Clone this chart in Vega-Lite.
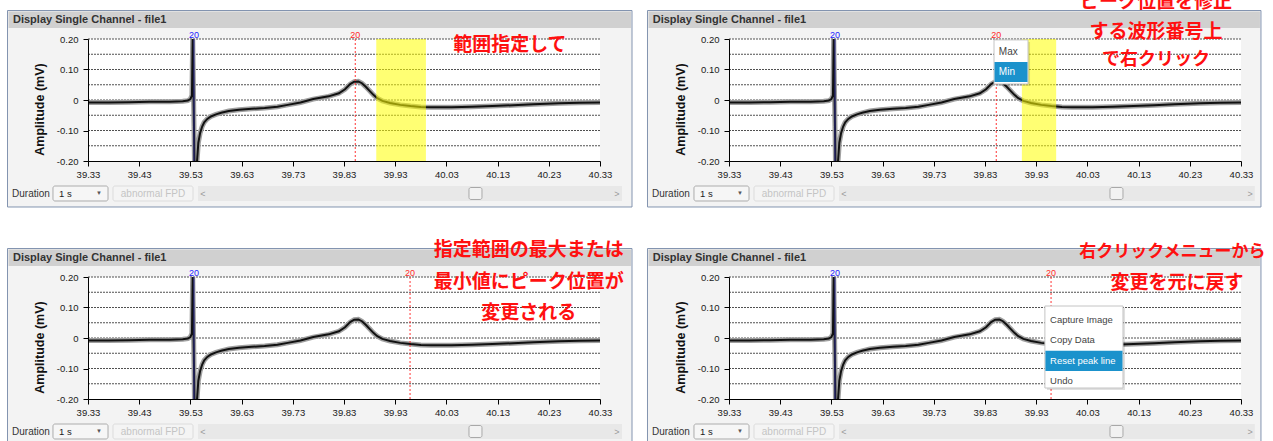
{
"$schema": "https://vega.github.io/schema/vega-lite/v6.json",
"background": "white",
"padding": {"left": 7, "top": -7, "right": 0, "bottom": 0},
"autosize": {"type": "pad"},
"data": {"values": [{"row": 1}]},
"columns": 2,
"spacing": {"row": 116, "column": 129},
"bounds": "flush",
"datasets": {
"signal": [
{"t":39.33,"v":-0.008},{"t":39.37,"v":-0.008},{"t":39.41,"v":-0.007},{"t":39.45,"v":-0.006},{"t":39.49,"v":-0.006},{"t":39.515,"v":-0.004},{"t":39.525,"v":-0.002},{"t":39.53,"v":0.003},{"t":39.533,"v":0.015},{"t":39.5345,"v":0.21},{"t":39.538,"v":-0.21},{"t":39.543,"v":-0.2},{"t":39.5455,"v":-0.14},{"t":39.549,"v":-0.108},{"t":39.553,"v":-0.087},{"t":39.557,"v":-0.073},{"t":39.563,"v":-0.062},{"t":39.57,"v":-0.054},{"t":39.58,"v":-0.047},{"t":39.59,"v":-0.042},{"t":39.605,"v":-0.036},{"t":39.625,"v":-0.032},{"t":39.65,"v":-0.029},{"t":39.675,"v":-0.026},{"t":39.7,"v":-0.022},{"t":39.72,"v":-0.016},{"t":39.745,"v":-0.008},{"t":39.77,"v":0.003},{"t":39.8,"v":0.012},{"t":39.82,"v":0.022},{"t":39.832,"v":0.035},{"t":39.842,"v":0.052},{"t":39.85,"v":0.06},{"t":39.858,"v":0.061},{"t":39.865,"v":0.055},{"t":39.872,"v":0.044},{"t":39.88,"v":0.03},{"t":39.888,"v":0.016},{"t":39.895,"v":0.006},{"t":39.905,"v":-0.003},{"t":39.92,"v":-0.01},{"t":39.94,"v":-0.016},{"t":39.96,"v":-0.02},{"t":39.98,"v":-0.023},{"t":40.0,"v":-0.024},{"t":40.04,"v":-0.024},{"t":40.08,"v":-0.022},{"t":40.12,"v":-0.02},{"t":40.16,"v":-0.017},{"t":40.2,"v":-0.014},{"t":40.25,"v":-0.011},{"t":40.29,"v":-0.009},{"t":40.33,"v":-0.008}
],
"grid": [{"g":0.2},{"g":0.15},{"g":0.1},{"g":0.05},{"g":0},{"g":-0.05},{"g":-0.1},{"g":-0.15}],
"markers": [
{"panel":"A","blue":39.537,"red":39.852},
{"panel":"B","blue":39.537,"red":39.852},
{"panel":"C","blue":39.537,"red":39.959},
{"panel":"D","blue":39.537,"red":39.959}
],
"ranges": [
{"panel":"A","start":39.893,"end":39.99},
{"panel":"B","start":39.902,"end":39.969}
]
},
"concat": [
{
"width": 512, "height": 122,
"layer": [
{"mark":{"type":"rect","fill":"#f3f3f3","stroke":"#8394b0","strokeWidth":1},"encoding":{"x":{"datum":39.1728},"x2":{"datum":40.3925},"y":{"datum":0.2934},"y2":{"datum":-0.3508}}},
{"mark":{"type":"rect","fill":"#d0d0d0"},"encoding":{"x":{"datum":39.1748},"x2":{"datum":40.3905},"y":{"datum":0.2905},"y2":{"datum":0.2361}}},
{"mark":{"type":"text","text":"Display Single Channel - file1","align":"left","baseline":"middle","font":"Liberation Sans","fontSize":11,"fontWeight":"bold","color":"#333333"},"encoding":{"x":{"datum":39.1835},"y":{"datum":0.2623}}},
{"mark":{"type":"rect","fill":"#ffffff"},"encoding":{"x":{"datum":39.33},"x2":{"datum":40.33},"y":{"datum":0.2},"y2":{"datum":-0.2}}},
{"data":{"name":"grid"},"mark":{"type":"rule","color":"#505050","strokeDash":[2,1],"strokeWidth":1},"encoding":{"y":{"field":"g","type":"quantitative"}}},
{"data":{"name":"signal"},"mark":{"type":"line","color":"#a0a0a0","strokeWidth":5,"clip":true},"encoding":{"x":{"field":"t","type":"quantitative"},"y":{"field":"v","type":"quantitative"}}},
{"data":{"name":"signal"},"mark":{"type":"line","color":"#111111","strokeWidth":2,"clip":true},"encoding":{
"x":{"field":"t","type":"quantitative","scale":{"domain":[39.33,40.33],"nice":false,"zero":false},"axis":{"values":[39.33,39.43,39.53,39.63,39.73,39.83,39.93,40.03,40.13,40.23,40.33],"format":".2f","title":null,"zindex":1}},
"y":{"field":"v","type":"quantitative","scale":{"domain":[-0.2,0.2],"nice":false,"zero":false},"axis":{"values":[0.2,0.15,0.1,0.05,0,-0.05,-0.1,-0.15,-0.2],"tickCount":8,"labelOverlap":false,"labelBound":false,"labelExpr":"datum.value == 0 ? '0' : (abs(datum.value) > 0.14 && abs(datum.value) < 0.16) ? '' : (datum.value < 0 ? '-' : '') + format(abs(datum.value), '.2f')","title":"Amplitude (mV)","zindex":1}}}},
{"data":{"name":"markers"},"transform":[{"filter":"datum.panel == 'A'"}],"mark":{"type":"rule","color":"#2a2a8a","strokeWidth":1},"encoding":{"x":{"field":"blue","type":"quantitative"}}},
{"data":{"name":"markers"},"transform":[{"filter":"datum.panel == 'A'"}],"mark":{"type":"text","text":"20","fontSize":9,"color":"#2222ff","baseline":"middle"},"encoding":{"x":{"field":"blue","type":"quantitative"},"y":{"datum":0.2131}}},
{"data":{"name":"markers"},"transform":[{"filter":"datum.panel == 'A'"}],"mark":{"type":"rule","color":"#ff3333","strokeWidth":1,"strokeDash":[2,2]},"encoding":{"x":{"field":"red","type":"quantitative"}}},
{"data":{"name":"markers"},"transform":[{"filter":"datum.panel == 'A'"}],"mark":{"type":"text","text":"20","fontSize":9,"color":"#ff2a2a","baseline":"middle"},"encoding":{"x":{"field":"red","type":"quantitative"},"y":{"datum":0.2131}}},
{"data":{"name":"ranges"},"transform":[{"filter":"datum.panel == 'A'"}],"mark":{"type":"rect","color":"#ffff00","opacity":0.55},"encoding":{"x":{"field":"start","type":"quantitative"},"x2":{"field":"end"},"y":{"datum":0.2},"y2":{"datum":-0.2}}},
{"mark":{"type":"text","text":"範囲指定して","align":"center","baseline":"middle","font":"Noto Sans CJK JP","fontSize":19,"fontWeight":"bold","color":"#ff1010"},"encoding":{"x":{"datum":40.154},"y":{"datum":0.18}}},
{"mark":{"type":"text","text":"Duration","align":"left","baseline":"middle","fontSize":10,"color":"#333333"},"encoding":{"x":{"datum":39.1816},"y":{"datum":-0.3066}}},
{"mark":{"type":"rect","fill":"#f6f6f6","stroke":"#acacac","cornerRadius":2},"encoding":{"x":{"datum":39.2616},"x2":{"datum":39.3691},"y":{"datum":-0.282},"y2":{"datum":-0.3311}}},
{"mark":{"type":"text","text":"1 s","align":"left","baseline":"middle","fontSize":9.5,"color":"#222222"},"encoding":{"x":{"datum":39.2734},"y":{"datum":-0.3066}}},
{"mark":{"type":"text","text":"▼","align":"center","baseline":"middle","fontSize":6,"color":"#555555"},"encoding":{"x":{"datum":39.3515},"y":{"datum":-0.3036}}},
{"mark":{"type":"rect","fill":"#f4f4f4","stroke":"#dcdcdc","cornerRadius":2},"encoding":{"x":{"datum":39.3788},"x2":{"datum":39.5351},"y":{"datum":-0.282},"y2":{"datum":-0.3311}}},
{"mark":{"type":"text","text":"abnormal FPD","align":"center","baseline":"middle","fontSize":10,"color":"#c4c4c4"},"encoding":{"x":{"datum":39.457},"y":{"datum":-0.3066}}},
{"mark":{"type":"rect","fill":"#e8e8e8"},"encoding":{"x":{"datum":39.5448},"x2":{"datum":40.373},"y":{"datum":-0.282},"y2":{"datum":-0.3311}}},
{"mark":{"type":"text","text":"<","align":"center","baseline":"middle","fontSize":9,"color":"#9a9a9a"},"encoding":{"x":{"datum":39.5546},"y":{"datum":-0.3066}}},
{"mark":{"type":"text","text":">","align":"center","baseline":"middle","fontSize":9,"color":"#9a9a9a"},"encoding":{"x":{"datum":40.3632},"y":{"datum":-0.3066}}},
{"mark":{"type":"rect","fill":"#f2f2f2","stroke":"#a8a8a8","cornerRadius":2},"encoding":{"x":{"datum":40.0741},"x2":{"datum":40.0995},"y":{"datum":-0.2869},"y2":{"datum":-0.3262}}}
]
},
{
"width": 512, "height": 122,
"layer": [
{"mark":{"type":"rect","fill":"#f3f3f3","stroke":"#8394b0","strokeWidth":1},"encoding":{"x":{"datum":39.1708},"x2":{"datum":40.369},"y":{"datum":0.2934},"y2":{"datum":-0.3508}}},
{"mark":{"type":"rect","fill":"#d0d0d0"},"encoding":{"x":{"datum":39.1728},"x2":{"datum":40.367},"y":{"datum":0.2905},"y2":{"datum":0.2361}}},
{"mark":{"type":"text","text":"Display Single Channel - file1","align":"left","baseline":"middle","font":"Liberation Sans","fontSize":11,"fontWeight":"bold","color":"#333333"},"encoding":{"x":{"datum":39.181},"y":{"datum":0.2623}}},
{"mark":{"type":"rect","fill":"#ffffff"},"encoding":{"x":{"datum":39.33},"x2":{"datum":40.33},"y":{"datum":0.2},"y2":{"datum":-0.2}}},
{"data":{"name":"grid"},"mark":{"type":"rule","color":"#505050","strokeDash":[2,1],"strokeWidth":1},"encoding":{"y":{"field":"g","type":"quantitative"}}},
{"data":{"name":"signal"},"mark":{"type":"line","color":"#a0a0a0","strokeWidth":5,"clip":true},"encoding":{"x":{"field":"t","type":"quantitative"},"y":{"field":"v","type":"quantitative"}}},
{"data":{"name":"signal"},"mark":{"type":"line","color":"#111111","strokeWidth":2,"clip":true},"encoding":{
"x":{"field":"t","type":"quantitative","scale":{"domain":[39.33,40.33],"nice":false,"zero":false},"axis":{"values":[39.33,39.43,39.53,39.63,39.73,39.83,39.93,40.03,40.13,40.23,40.33],"format":".2f","title":null,"zindex":1}},
"y":{"field":"v","type":"quantitative","scale":{"domain":[-0.2,0.2],"nice":false,"zero":false},"axis":{"values":[0.2,0.15,0.1,0.05,0,-0.05,-0.1,-0.15,-0.2],"tickCount":8,"labelOverlap":false,"labelBound":false,"labelExpr":"datum.value == 0 ? '0' : (abs(datum.value) > 0.14 && abs(datum.value) < 0.16) ? '' : (datum.value < 0 ? '-' : '') + format(abs(datum.value), '.2f')","title":"Amplitude (mV)","zindex":1}}}},
{"data":{"name":"markers"},"transform":[{"filter":"datum.panel == 'B'"}],"mark":{"type":"rule","color":"#2a2a8a","strokeWidth":1},"encoding":{"x":{"field":"blue","type":"quantitative"}}},
{"data":{"name":"markers"},"transform":[{"filter":"datum.panel == 'B'"}],"mark":{"type":"text","text":"20","fontSize":9,"color":"#2222ff","baseline":"middle"},"encoding":{"x":{"field":"blue","type":"quantitative"},"y":{"datum":0.2131}}},
{"data":{"name":"markers"},"transform":[{"filter":"datum.panel == 'B'"}],"mark":{"type":"rule","color":"#ff3333","strokeWidth":1,"strokeDash":[2,2]},"encoding":{"x":{"field":"red","type":"quantitative"}}},
{"data":{"name":"markers"},"transform":[{"filter":"datum.panel == 'B'"}],"mark":{"type":"text","text":"20","fontSize":9,"color":"#ff2a2a","baseline":"middle"},"encoding":{"x":{"field":"red","type":"quantitative"},"y":{"datum":0.2131}}},
{"data":{"name":"ranges"},"transform":[{"filter":"datum.panel == 'B'"}],"mark":{"type":"rect","color":"#ffff00","opacity":0.55},"encoding":{"x":{"field":"start","type":"quantitative"},"x2":{"field":"end"},"y":{"datum":0.2},"y2":{"datum":-0.2}}},
{"mark":{"type":"rect","fill":"#000000","opacity":0.12},"encoding":{"x":{"datum":39.8516},"x2":{"datum":39.918},"y":{"datum":0.1904},"y2":{"datum":0.0459}}},
{"mark":{"type":"rect","fill":"#ffffff","stroke":"#c4c4c4"},"encoding":{"x":{"datum":39.8476},"x2":{"datum":39.914},"y":{"datum":0.197},"y2":{"datum":0.0525}}},
{"mark":{"type":"rect","fill":"#1b92cc"},"encoding":{"x":{"datum":39.8486},"x2":{"datum":39.913},"y":{"datum":0.1246},"y2":{"datum":0.059}}},
{"mark":{"type":"text","text":"Max","align":"left","baseline":"middle","fontSize":10,"color":"#444444"},"encoding":{"x":{"datum":39.857},"y":{"datum":0.159}}},
{"mark":{"type":"text","text":"Min","align":"left","baseline":"middle","fontSize":10,"color":"#ffffff"},"encoding":{"x":{"datum":39.857},"y":{"datum":0.0928}}},
{"mark":{"type":"text","text":"ピーク位置を修正","align":"center","baseline":"middle","font":"Noto Sans CJK JP","fontSize":19,"fontWeight":"bold","color":"#ff1010"},"encoding":{"x":{"datum":40.164},"y":{"datum":0.3197}}},
{"mark":{"type":"text","text":"する波形番号上","align":"center","baseline":"middle","font":"Noto Sans CJK JP","fontSize":19,"fontWeight":"bold","color":"#ff1010"},"encoding":{"x":{"datum":40.164},"y":{"datum":0.224}}},
{"mark":{"type":"text","text":"で右クリック","align":"center","baseline":"middle","font":"Noto Sans CJK JP","fontSize":18,"fontWeight":"bold","color":"#ff1010"},"encoding":{"x":{"datum":40.164},"y":{"datum":0.131}}},
{"mark":{"type":"text","text":"Duration","align":"left","baseline":"middle","fontSize":10,"color":"#333333"},"encoding":{"x":{"datum":39.1796},"y":{"datum":-0.3066}}},
{"mark":{"type":"rect","fill":"#f6f6f6","stroke":"#acacac","cornerRadius":2},"encoding":{"x":{"datum":39.2616},"x2":{"datum":39.3691},"y":{"datum":-0.282},"y2":{"datum":-0.3311}}},
{"mark":{"type":"text","text":"1 s","align":"left","baseline":"middle","fontSize":9.5,"color":"#222222"},"encoding":{"x":{"datum":39.2734},"y":{"datum":-0.3066}}},
{"mark":{"type":"text","text":"▼","align":"center","baseline":"middle","fontSize":6,"color":"#555555"},"encoding":{"x":{"datum":39.3515},"y":{"datum":-0.3036}}},
{"mark":{"type":"rect","fill":"#f4f4f4","stroke":"#dcdcdc","cornerRadius":2},"encoding":{"x":{"datum":39.3788},"x2":{"datum":39.5351},"y":{"datum":-0.282},"y2":{"datum":-0.3311}}},
{"mark":{"type":"text","text":"abnormal FPD","align":"center","baseline":"middle","fontSize":10,"color":"#c4c4c4"},"encoding":{"x":{"datum":39.457},"y":{"datum":-0.3066}}},
{"mark":{"type":"rect","fill":"#e8e8e8"},"encoding":{"x":{"datum":39.5448},"x2":{"datum":40.357},"y":{"datum":-0.282},"y2":{"datum":-0.3311}}},
{"mark":{"type":"text","text":"<","align":"center","baseline":"middle","fontSize":9,"color":"#9a9a9a"},"encoding":{"x":{"datum":39.5546},"y":{"datum":-0.3066}}},
{"mark":{"type":"text","text":">","align":"center","baseline":"middle","fontSize":9,"color":"#9a9a9a"},"encoding":{"x":{"datum":40.3476},"y":{"datum":-0.3066}}},
{"mark":{"type":"rect","fill":"#f2f2f2","stroke":"#a8a8a8","cornerRadius":2},"encoding":{"x":{"datum":40.0741},"x2":{"datum":40.0995},"y":{"datum":-0.2869},"y2":{"datum":-0.3262}}}
]
},
{
"width": 512, "height": 122,
"layer": [
{"mark":{"type":"rect","fill":"#f3f3f3","stroke":"#8394b0","strokeWidth":1},"encoding":{"x":{"datum":39.1728},"x2":{"datum":40.3925},"y":{"datum":0.2934},"y2":{"datum":-0.3508}}},
{"mark":{"type":"rect","fill":"#d0d0d0"},"encoding":{"x":{"datum":39.1748},"x2":{"datum":40.3905},"y":{"datum":0.2905},"y2":{"datum":0.2361}}},
{"mark":{"type":"text","text":"Display Single Channel - file1","align":"left","baseline":"middle","font":"Liberation Sans","fontSize":11,"fontWeight":"bold","color":"#333333"},"encoding":{"x":{"datum":39.1835},"y":{"datum":0.2623}}},
{"mark":{"type":"rect","fill":"#ffffff"},"encoding":{"x":{"datum":39.33},"x2":{"datum":40.33},"y":{"datum":0.2},"y2":{"datum":-0.2}}},
{"data":{"name":"grid"},"mark":{"type":"rule","color":"#505050","strokeDash":[2,1],"strokeWidth":1},"encoding":{"y":{"field":"g","type":"quantitative"}}},
{"data":{"name":"signal"},"mark":{"type":"line","color":"#a0a0a0","strokeWidth":5,"clip":true},"encoding":{"x":{"field":"t","type":"quantitative"},"y":{"field":"v","type":"quantitative"}}},
{"data":{"name":"signal"},"mark":{"type":"line","color":"#111111","strokeWidth":2,"clip":true},"encoding":{
"x":{"field":"t","type":"quantitative","scale":{"domain":[39.33,40.33],"nice":false,"zero":false},"axis":{"values":[39.33,39.43,39.53,39.63,39.73,39.83,39.93,40.03,40.13,40.23,40.33],"format":".2f","title":null,"zindex":1}},
"y":{"field":"v","type":"quantitative","scale":{"domain":[-0.2,0.2],"nice":false,"zero":false},"axis":{"values":[0.2,0.15,0.1,0.05,0,-0.05,-0.1,-0.15,-0.2],"tickCount":8,"labelOverlap":false,"labelBound":false,"labelExpr":"datum.value == 0 ? '0' : (abs(datum.value) > 0.14 && abs(datum.value) < 0.16) ? '' : (datum.value < 0 ? '-' : '') + format(abs(datum.value), '.2f')","title":"Amplitude (mV)","zindex":1}}}},
{"data":{"name":"markers"},"transform":[{"filter":"datum.panel == 'C'"}],"mark":{"type":"rule","color":"#2a2a8a","strokeWidth":1},"encoding":{"x":{"field":"blue","type":"quantitative"}}},
{"data":{"name":"markers"},"transform":[{"filter":"datum.panel == 'C'"}],"mark":{"type":"text","text":"20","fontSize":9,"color":"#2222ff","baseline":"middle"},"encoding":{"x":{"field":"blue","type":"quantitative"},"y":{"datum":0.2131}}},
{"data":{"name":"markers"},"transform":[{"filter":"datum.panel == 'C'"}],"mark":{"type":"rule","color":"#ff3333","strokeWidth":1,"strokeDash":[2,2]},"encoding":{"x":{"field":"red","type":"quantitative"}}},
{"data":{"name":"markers"},"transform":[{"filter":"datum.panel == 'C'"}],"mark":{"type":"text","text":"20","fontSize":9,"color":"#ff2a2a","baseline":"middle"},"encoding":{"x":{"field":"red","type":"quantitative"},"y":{"datum":0.2131}}},
{"mark":{"type":"text","text":"指定範囲の最大または","align":"center","baseline":"middle","font":"Noto Sans CJK JP","fontSize":19,"fontWeight":"bold","color":"#ff1010"},"encoding":{"x":{"datum":40.191},"y":{"datum":0.2885}}},
{"mark":{"type":"text","text":"最小値にピーク位置が","align":"center","baseline":"middle","font":"Noto Sans CJK JP","fontSize":19,"fontWeight":"bold","color":"#ff1010"},"encoding":{"x":{"datum":40.191},"y":{"datum":0.1846}}},
{"mark":{"type":"text","text":"変更される","align":"center","baseline":"middle","font":"Noto Sans CJK JP","fontSize":19,"fontWeight":"bold","color":"#ff1010"},"encoding":{"x":{"datum":40.191},"y":{"datum":0.081}}},
{"mark":{"type":"text","text":"Duration","align":"left","baseline":"middle","fontSize":10,"color":"#333333"},"encoding":{"x":{"datum":39.1816},"y":{"datum":-0.3066}}},
{"mark":{"type":"rect","fill":"#f6f6f6","stroke":"#acacac","cornerRadius":2},"encoding":{"x":{"datum":39.2616},"x2":{"datum":39.3691},"y":{"datum":-0.282},"y2":{"datum":-0.3311}}},
{"mark":{"type":"text","text":"1 s","align":"left","baseline":"middle","fontSize":9.5,"color":"#222222"},"encoding":{"x":{"datum":39.2734},"y":{"datum":-0.3066}}},
{"mark":{"type":"text","text":"▼","align":"center","baseline":"middle","fontSize":6,"color":"#555555"},"encoding":{"x":{"datum":39.3515},"y":{"datum":-0.3036}}},
{"mark":{"type":"rect","fill":"#f4f4f4","stroke":"#dcdcdc","cornerRadius":2},"encoding":{"x":{"datum":39.3788},"x2":{"datum":39.5351},"y":{"datum":-0.282},"y2":{"datum":-0.3311}}},
{"mark":{"type":"text","text":"abnormal FPD","align":"center","baseline":"middle","fontSize":10,"color":"#c4c4c4"},"encoding":{"x":{"datum":39.457},"y":{"datum":-0.3066}}},
{"mark":{"type":"rect","fill":"#e8e8e8"},"encoding":{"x":{"datum":39.5448},"x2":{"datum":40.373},"y":{"datum":-0.282},"y2":{"datum":-0.3311}}},
{"mark":{"type":"text","text":"<","align":"center","baseline":"middle","fontSize":9,"color":"#9a9a9a"},"encoding":{"x":{"datum":39.5546},"y":{"datum":-0.3066}}},
{"mark":{"type":"text","text":">","align":"center","baseline":"middle","fontSize":9,"color":"#9a9a9a"},"encoding":{"x":{"datum":40.3632},"y":{"datum":-0.3066}}},
{"mark":{"type":"rect","fill":"#f2f2f2","stroke":"#a8a8a8","cornerRadius":2},"encoding":{"x":{"datum":40.0741},"x2":{"datum":40.0995},"y":{"datum":-0.2869},"y2":{"datum":-0.3262}}}
]
},
{
"width": 512, "height": 122,
"layer": [
{"mark":{"type":"rect","fill":"#f3f3f3","stroke":"#8394b0","strokeWidth":1},"encoding":{"x":{"datum":39.1708},"x2":{"datum":40.369},"y":{"datum":0.2934},"y2":{"datum":-0.3508}}},
{"mark":{"type":"rect","fill":"#d0d0d0"},"encoding":{"x":{"datum":39.1728},"x2":{"datum":40.367},"y":{"datum":0.2905},"y2":{"datum":0.2361}}},
{"mark":{"type":"text","text":"Display Single Channel - file1","align":"left","baseline":"middle","font":"Liberation Sans","fontSize":11,"fontWeight":"bold","color":"#333333"},"encoding":{"x":{"datum":39.181},"y":{"datum":0.2623}}},
{"mark":{"type":"rect","fill":"#ffffff"},"encoding":{"x":{"datum":39.33},"x2":{"datum":40.33},"y":{"datum":0.2},"y2":{"datum":-0.2}}},
{"data":{"name":"grid"},"mark":{"type":"rule","color":"#505050","strokeDash":[2,1],"strokeWidth":1},"encoding":{"y":{"field":"g","type":"quantitative"}}},
{"data":{"name":"signal"},"mark":{"type":"line","color":"#a0a0a0","strokeWidth":5,"clip":true},"encoding":{"x":{"field":"t","type":"quantitative"},"y":{"field":"v","type":"quantitative"}}},
{"data":{"name":"signal"},"mark":{"type":"line","color":"#111111","strokeWidth":2,"clip":true},"encoding":{
"x":{"field":"t","type":"quantitative","scale":{"domain":[39.33,40.33],"nice":false,"zero":false},"axis":{"values":[39.33,39.43,39.53,39.63,39.73,39.83,39.93,40.03,40.13,40.23,40.33],"format":".2f","title":null,"zindex":1}},
"y":{"field":"v","type":"quantitative","scale":{"domain":[-0.2,0.2],"nice":false,"zero":false},"axis":{"values":[0.2,0.15,0.1,0.05,0,-0.05,-0.1,-0.15,-0.2],"tickCount":8,"labelOverlap":false,"labelBound":false,"labelExpr":"datum.value == 0 ? '0' : (abs(datum.value) > 0.14 && abs(datum.value) < 0.16) ? '' : (datum.value < 0 ? '-' : '') + format(abs(datum.value), '.2f')","title":"Amplitude (mV)","zindex":1}}}},
{"data":{"name":"markers"},"transform":[{"filter":"datum.panel == 'D'"}],"mark":{"type":"rule","color":"#2a2a8a","strokeWidth":1},"encoding":{"x":{"field":"blue","type":"quantitative"}}},
{"data":{"name":"markers"},"transform":[{"filter":"datum.panel == 'D'"}],"mark":{"type":"text","text":"20","fontSize":9,"color":"#2222ff","baseline":"middle"},"encoding":{"x":{"field":"blue","type":"quantitative"},"y":{"datum":0.2131}}},
{"data":{"name":"markers"},"transform":[{"filter":"datum.panel == 'D'"}],"mark":{"type":"rule","color":"#ff3333","strokeWidth":1,"strokeDash":[2,2]},"encoding":{"x":{"field":"red","type":"quantitative"}}},
{"data":{"name":"markers"},"transform":[{"filter":"datum.panel == 'D'"}],"mark":{"type":"text","text":"20","fontSize":9,"color":"#ff2a2a","baseline":"middle"},"encoding":{"x":{"field":"red","type":"quantitative"},"y":{"datum":0.2131}}},
{"mark":{"type":"rect","fill":"#000000","opacity":0.12},"encoding":{"x":{"datum":39.951},"x2":{"datum":40.1035},"y":{"datum":0.0983},"y2":{"datum":-0.1706}}},
{"mark":{"type":"rect","fill":"#ffffff","stroke":"#c4c4c4"},"encoding":{"x":{"datum":39.947},"x2":{"datum":40.0995},"y":{"datum":0.1049},"y2":{"datum":-0.164}}},
{"mark":{"type":"rect","fill":"#1b92cc"},"encoding":{"x":{"datum":39.948},"x2":{"datum":40.0985},"y":{"datum":-0.0417},"y2":{"datum":-0.108}}},
{"mark":{"type":"text","text":"Capture Image","align":"left","baseline":"middle","fontSize":9.5,"color":"#444444"},"encoding":{"x":{"datum":39.957},"y":{"datum":0.059}}},
{"mark":{"type":"text","text":"Copy Data","align":"left","baseline":"middle","fontSize":9.5,"color":"#444444"},"encoding":{"x":{"datum":39.957},"y":{"datum":-0.0066}}},
{"mark":{"type":"text","text":"Reset peak line","align":"left","baseline":"middle","fontSize":9.5,"color":"#ffffff"},"encoding":{"x":{"datum":39.957},"y":{"datum":-0.0745}}},
{"mark":{"type":"text","text":"Undo","align":"left","baseline":"middle","fontSize":9.5,"color":"#444444"},"encoding":{"x":{"datum":39.957},"y":{"datum":-0.14}}},
{"mark":{"type":"text","text":"右クリックメニューから","align":"center","baseline":"middle","font":"Noto Sans CJK JP","fontSize":17,"fontWeight":"bold","color":"#ff1010"},"encoding":{"x":{"datum":40.196},"y":{"datum":0.2836}}},
{"mark":{"type":"text","text":"変更を元に戻す","align":"center","baseline":"middle","font":"Noto Sans CJK JP","fontSize":19,"fontWeight":"bold","color":"#ff1010"},"encoding":{"x":{"datum":40.205},"y":{"datum":0.18}}},
{"mark":{"type":"text","text":"Duration","align":"left","baseline":"middle","fontSize":10,"color":"#333333"},"encoding":{"x":{"datum":39.1796},"y":{"datum":-0.3066}}},
{"mark":{"type":"rect","fill":"#f6f6f6","stroke":"#acacac","cornerRadius":2},"encoding":{"x":{"datum":39.2616},"x2":{"datum":39.3691},"y":{"datum":-0.282},"y2":{"datum":-0.3311}}},
{"mark":{"type":"text","text":"1 s","align":"left","baseline":"middle","fontSize":9.5,"color":"#222222"},"encoding":{"x":{"datum":39.2734},"y":{"datum":-0.3066}}},
{"mark":{"type":"text","text":"▼","align":"center","baseline":"middle","fontSize":6,"color":"#555555"},"encoding":{"x":{"datum":39.3515},"y":{"datum":-0.3036}}},
{"mark":{"type":"rect","fill":"#f4f4f4","stroke":"#dcdcdc","cornerRadius":2},"encoding":{"x":{"datum":39.3788},"x2":{"datum":39.5351},"y":{"datum":-0.282},"y2":{"datum":-0.3311}}},
{"mark":{"type":"text","text":"abnormal FPD","align":"center","baseline":"middle","fontSize":10,"color":"#c4c4c4"},"encoding":{"x":{"datum":39.457},"y":{"datum":-0.3066}}},
{"mark":{"type":"rect","fill":"#e8e8e8"},"encoding":{"x":{"datum":39.5448},"x2":{"datum":40.357},"y":{"datum":-0.282},"y2":{"datum":-0.3311}}},
{"mark":{"type":"text","text":"<","align":"center","baseline":"middle","fontSize":9,"color":"#9a9a9a"},"encoding":{"x":{"datum":39.5546},"y":{"datum":-0.3066}}},
{"mark":{"type":"text","text":">","align":"center","baseline":"middle","fontSize":9,"color":"#9a9a9a"},"encoding":{"x":{"datum":40.3476},"y":{"datum":-0.3066}}},
{"mark":{"type":"rect","fill":"#f2f2f2","stroke":"#a8a8a8","cornerRadius":2},"encoding":{"x":{"datum":40.0741},"x2":{"datum":40.0995},"y":{"datum":-0.2869},"y2":{"datum":-0.3262}}}
]
}
],
"config": {
"view": {"stroke": null},
"font": "Liberation Sans",
"axis": {"grid": false, "domainColor": "#000000", "domainWidth": 1, "tickColor": "#000000", "tickSize": 5, "tickWidth": 1, "labelFont": "Liberation Sans", "labelFontSize": 9.5, "labelColor": "#1a1a1a", "labelFlush": false, "labelOverlap": false, "titleFont": "Liberation Sans"},
"axisX": {"labelPadding": 3},
"axisY": {"labelPadding": 5, "titleFontSize": 12.5, "titleFontWeight": "bold", "titleColor": "#111111", "titleX": -49, "titleY": 70, "titleBaseline": "middle", "titleAngle": -90, "titleAlign": "center"}
}
}
